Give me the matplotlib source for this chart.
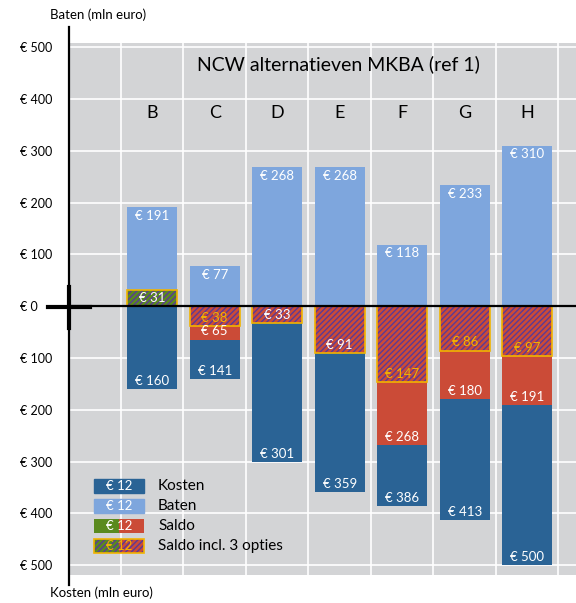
import numpy as np
import matplotlib.pyplot as plt
from matplotlib.patches import Rectangle
from matplotlib.lines import Line2D

plt.rcParams['font.family'] = ['Lato', 'DejaVu Sans']
plt.rcParams['hatch.linewidth'] = 1.0

# data (mln euro)
categories = ['B', 'C', 'D', 'E', 'F', 'G', 'H']
baten = [191, 77, 268, 268, 118, 233, 310]
kosten = [160, 141, 301, 359, 386, 413, 500]
saldo = [31, -65, -33, -91, -268, -180, -191]
saldo_opties = [31, -38, -33, -91, -147, -86, -97]
opties_label_goud = [False, True, False, False, True, True, True]
y_ticks = [500, 400, 300, 200, 100, 0, -100, -200, -300, -400, -500]

c_kosten = '#2a6395'
c_baten = '#7ea6dd'
c_rood = '#cb4b37'
c_groen = '#5a8a1e'
c_paars = '#5a3a96'
c_goud = '#f2b400'
c_bg = '#d3d4d6'

W, H = 576, 603
fig = plt.figure(figsize=(W / 100, H / 100), dpi=100)
ax = fig.add_axes([69 / W, (H - 575) / H, (W - 69) / W, (575 - 43) / H])
ax.set_facecolor(c_bg)

x = np.arange(len(categories))
bw = 0.8
ax.bar(x, [-k for k in kosten], bw, color=c_kosten, zorder=2)
ax.bar(x, baten, bw, color=c_baten, zorder=2)
saldo_kleur = [c_groen if s > 0 else c_rood for s in saldo]
ax.bar(x, saldo, bw, color=saldo_kleur, zorder=3)
ax.bar(x, saldo_opties, bw, color='none', edgecolor=c_paars, hatch='//////', lw=0, zorder=4)
ax.bar(x, saldo_opties, bw, color='none', edgecolor=c_goud, lw=1.2, zorder=5)


def label(xi, v, color):
    off = -6 if v > 0 else 6
    ax.annotate(f'€ {abs(v)}', (xi, v), xytext=(0, off), textcoords='offset points',
                ha='center', va='center', color=color, fontsize=9.5, zorder=6)


for i in range(len(categories)):
    label(x[i], baten[i], 'white')
    label(x[i], -kosten[i], 'white')
    if saldo[i] != saldo_opties[i]:
        label(x[i], saldo[i], 'white')
    label(x[i], saldo_opties[i], c_goud if opties_label_goud[i] else 'white')
    ax.text(x[i], 0.868, categories[i], transform=ax.get_xaxis_transform(),
            ha='center', va='center', fontsize=13)

ax.set_xlim(-1.33, 6.78)
ax.set_ylim(-519, 508)
ax.set_yticks(y_ticks)
ax.set_yticklabels([f'€ {abs(t)}' for t in y_ticks], ha='left')
ax.set_xticks(np.arange(-0.5, 7, 1))
ax.set_xticklabels([])
ax.tick_params(length=0, labelsize=9, pad=35)
ax.grid(True, color='white', lw=1.2, zorder=0)
ax.set_axisbelow(True)
for s in ax.spines.values():
    s.set_visible(False)
ax.axhline(0, color='black', lw=1.6, zorder=7)

# axis line and cross at zero
fig.add_artist(Line2D([69 / W, 69 / W], [1 - 27 / H, 1 - 585 / H], color='black', lw=1.6))
fig.add_artist(Line2D([48 / W, 90 / W], [1 - 307 / H, 1 - 307 / H], color='black', lw=3))
fig.add_artist(Line2D([69 / W, 69 / W], [1 - 287 / H, 1 - 328 / H], color='black', lw=3))

fig.text(50 / W, 1 - 15 / H, 'Baten (mln euro)', ha='left', va='center', fontsize=9.5)
fig.text(50 / W, 1 - 593 / H, 'Kosten (mln euro)', ha='left', va='center', fontsize=9.5)
fig.text(338 / W, 1 - 64 / H, 'NCW alternatieven MKBA (ref 1)', ha='center', va='center', fontsize=14)

# legend
leg_names = ['Kosten', 'Baten', 'Saldo', 'Saldo incl. 3 opties']
rx, rw, rh = 94, 50, 14
for j, name in enumerate(leg_names):
    yc = 486 + 20 * j
    y0 = 1 - (yc + rh / 2) / H
    if j < 2:
        fig.add_artist(Rectangle((rx / W, y0), rw / W, rh / H, color=[c_kosten, c_baten][j]))
    else:
        fig.add_artist(Rectangle((rx / W, y0), rw / 2 / W, rh / H, color=c_groen, lw=0))
        fig.add_artist(Rectangle(((rx + rw / 2) / W, y0), rw / 2 / W, rh / H, color=c_rood, lw=0))
    if j == 3:
        fig.add_artist(Rectangle((rx / W, y0), rw / W, rh / H, facecolor='none',
                                 edgecolor=c_paars, hatch='//////', lw=0))
        fig.add_artist(Rectangle((rx / W, y0), rw / W, rh / H, facecolor='none',
                                 edgecolor=c_goud, lw=1.2))
    fig.text((rx + rw / 2) / W, 1 - yc / H, '€ 12', ha='center', va='center', fontsize=9.5,
             color=c_goud if j == 3 else 'white')
    fig.text(158 / W, 1 - yc / H, name, ha='left', va='center', fontsize=11)

fig.savefig('out.png', dpi=100)
